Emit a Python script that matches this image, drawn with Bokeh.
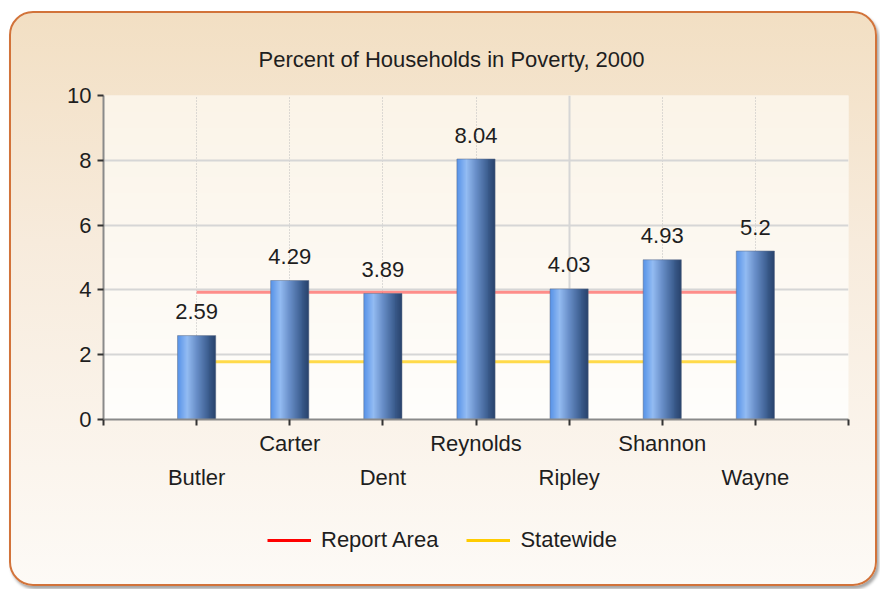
import numpy as np
from bokeh.plotting import figure
from bokeh.layouts import column
from bokeh.core.properties import value
from bokeh.models import (ColumnDataSource, LabelSet, Legend, FixedTicker,
                          Grid, Range1d, LinearAxis, Title)
from bokeh.embed import file_html
from bokeh.resources import INLINE

# ---------------- data ----------------
title_text = "Percent of Households in Poverty, 2000"
counties = ["Butler", "Carter", "Dent", "Reynolds", "Ripley", "Shannon", "Wayne"]
values = [2.59, 4.29, 3.89, 8.04, 4.03, 4.93, 5.2]
value_labels = ["2.59", "4.29", "3.89", "8.04", "4.03", "4.93", "5.2"]
report_area = 3.93
statewide = 1.78
y_ticks = [0, 2, 4, 6, 8, 10]
series_names = ["Report Area", "Statewide"]

# ---------------- style ----------------
FONT = "Liberation Sans"
FS = "22px"
TXT = "#1e1e1e"

xpos = list(range(1, len(counties) + 1))
x_end = len(counties) + 1

p = figure(width=864, height=497, x_range=Range1d(0, x_end),
           y_range=Range1d(0, 10), output_backend="svg", toolbar_location=None,
           min_border_left=92, min_border_right=27, min_border_top=82,
           min_border_bottom=91)
p.border_fill_alpha = 0
p.outline_line_color = None
p.background_fill_color = "#fdf9f2"

# title (left aligned with an offset so it sits centred on the whole chart)
p.title = Title(text=title_text, align="left", offset=155, standoff=48,
                text_font=FONT, text_font_size=FS, text_color=TXT,
                text_font_style="normal")

# plot-area vertical gradient background
n_rows = 120
top_c = np.array([251, 244, 232])
bot_c = np.array([255, 254, 252])
img = np.zeros((n_rows, 1), dtype=np.uint32)
view = img.view(dtype=np.uint8).reshape((n_rows, 1, 4))
for r in range(n_rows):
    t = r / (n_rows - 1)
    c = bot_c * (1 - t) + top_c * t
    view[r, 0, :3] = c.astype(np.uint8)
    view[r, 0, 3] = 255
bg = p.image_rgba(image=[img], x=0, y=0, dw=x_end, dh=10)
bg.level = "image"

# grids
p.ygrid.ticker = FixedTicker(ticks=y_ticks[1:])
p.ygrid.grid_line_color = "#d6d6d6"
p.ygrid.grid_line_width = 2
p.xgrid.ticker = FixedTicker(ticks=[t for t in range(1, x_end + 1) if t != 5])
p.xgrid.grid_line_color = "#bdbdbd"
p.xgrid.grid_line_width = 1
p.xgrid.grid_line_dash = "1 2"
solid_v = Grid(dimension=0, ticker=FixedTicker(ticks=[5]),
               grid_line_color="#d6d6d6", grid_line_width=2)
p.add_layout(solid_v)

# reference lines (behind bars)
p.line([xpos[0], xpos[-1]], [report_area, report_area], line_color="#ff2020",
       line_alpha=0.5, line_width=3)
p.line([xpos[0], xpos[-1]], [statewide, statewide], line_color="#ffcc00",
       line_alpha=0.7, line_width=3)

# gradient bars: one horizontal-gradient image per bar, sized by the value
stops = [(0.0, (86, 146, 232)), (0.25, (150, 190, 244)), (0.5, (104, 142, 200)),
         (0.78, (62, 96, 146)), (1.0, (40, 66, 108))]


def grad(t):
    for (t0, c0), (t1, c1) in zip(stops[:-1], stops[1:]):
        if t0 <= t <= t1:
            u = (t - t0) / (t1 - t0)
            return [int(round(a + (b - a) * u)) for a, b in zip(c0, c1)]
    return list(stops[-1][1])


bw = 0.41
n_cols = 40
bar_img = np.zeros((1, n_cols), dtype=np.uint32)
bv = bar_img.view(dtype=np.uint8).reshape((1, n_cols, 4))
for k in range(n_cols):
    bv[0, k, :3] = grad((k + 0.5) / n_cols)
    bv[0, k, 3] = 255
p.image_rgba(image=[bar_img] * len(values), x=[x - bw / 2 for x in xpos],
             y=[0] * len(values), dw=[bw] * len(values), dh=values)
p.vbar(x=xpos, top=values, width=bw, fill_alpha=0, line_color="#5a6a85",
       line_alpha=0.5, line_width=1)

# value labels
vsrc = ColumnDataSource(dict(x=xpos, y=values, t=value_labels))
p.add_layout(LabelSet(x="x", y="y", text="t", source=vsrc, y_offset=24,
                      text_align="center", text_baseline="middle",
                      text_font=value(FONT), text_font_size=value(FS),
                      text_color=TXT))

# y axis
p.yaxis.ticker = FixedTicker(ticks=y_ticks)
p.yaxis.axis_line_color = "#8a8a8a"
p.yaxis.axis_line_width = 2
p.yaxis.major_tick_line_color = "#333333"
p.yaxis.major_tick_line_width = 2
p.yaxis.major_tick_out = 6
p.yaxis.major_tick_in = 0
p.yaxis.minor_tick_line_color = None
p.yaxis.major_label_text_font = FONT
p.yaxis.major_label_text_font_size = FS
p.yaxis.major_label_text_color = TXT
p.yaxis.major_label_standoff = 6

# x axis: ticks + upper row of labels (Carter, Reynolds, Shannon)
xax = p.below[0]
upper = {i + 1: (counties[i] if i % 2 == 1 else "") for i in range(len(counties))}
upper[0] = ""
upper[x_end] = ""
xax.ticker = FixedTicker(ticks=list(range(0, x_end + 1)))
xax.major_label_overrides = upper
xax.axis_line_color = "#8a8a8a"
xax.axis_line_width = 2
xax.major_tick_line_color = "#333333"
xax.major_tick_line_width = 2
xax.major_tick_out = 6
xax.major_tick_in = 0
xax.minor_tick_line_color = None
xax.major_label_text_font = FONT
xax.major_label_text_font_size = FS
xax.major_label_text_color = TXT
xax.major_label_standoff = 5

# second (label-only) axis: lower row (Butler, Dent, Ripley, Wayne)
lower = {i + 1: counties[i] for i in range(0, len(counties), 2)}
ax2 = LinearAxis(ticker=FixedTicker(ticks=sorted(lower.keys())),
                 major_label_overrides=lower, axis_line_color=None,
                 major_tick_line_color=None, minor_tick_line_color=None,
                 major_tick_out=0, major_tick_in=0, major_label_standoff=6,
                 major_label_text_font=FONT, major_label_text_font_size=FS,
                 major_label_text_color=TXT)
p.add_layout(ax2, "below")

# invisible spacer between the title and the plot area
spacer = LinearAxis(ticker=FixedTicker(ticks=[]), axis_line_color=None,
                    major_tick_line_color=None, minor_tick_line_color=None,
                    major_tick_out=8, major_tick_in=0, minor_tick_out=0,
                    minor_tick_in=0, major_label_standoff=0)
p.add_layout(spacer, "above")

# legend strip: a small figure that holds only the legend.  Its renderers
# carry the series values, which lie outside this strip's 0..1 range.
q = figure(width=864, height=74, x_range=Range1d(0, x_end), y_range=Range1d(0, 1),
           output_backend="svg", toolbar_location=None, x_axis_type=None,
           y_axis_type=None, min_border=0)
q.border_fill_alpha = 0
q.background_fill_alpha = 0
q.outline_line_color = None
r1 = q.line([xpos[0], xpos[-1]], [report_area, report_area],
            line_color="#ff0000", line_width=3)
r2 = q.line([xpos[0], xpos[-1]], [statewide, statewide],
            line_color="#ffcc00", line_width=3)
legend = Legend(items=[(series_names[0], [r1]), (series_names[1], [r2])],
                orientation="horizontal", location=(164, 31),
                glyph_width=44, glyph_height=20, label_standoff=10, spacing=28,
                padding=0, margin=0, background_fill_alpha=0,
                border_line_color=None, label_text_font=FONT,
                label_text_font_size=FS, label_text_color=TXT)
q.add_layout(legend)

layout = column(p, q, spacing=0)
layout.styles = {
    "margin-left": "9px", "margin-top": "11px",
    "border": "2px solid #d2733a", "border-radius": "24px",
    "background": "linear-gradient(to bottom, #f2dfc3 0%, #f7ebdc 40%, #fdfaf6 100%)",
    "box-shadow": "2px 3px 3px rgba(0,0,0,0.35)",
}

open("out.html", "w").write(file_html(layout, INLINE))
